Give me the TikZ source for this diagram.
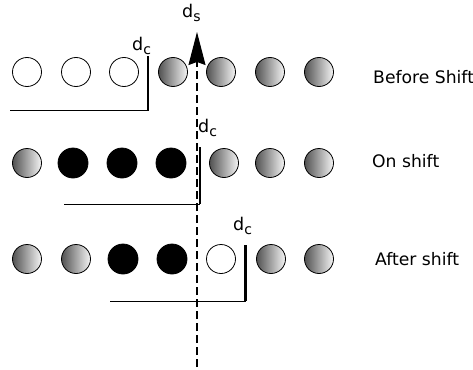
\documentclass[tikz,border=0pt]{standalone}
\usepackage{fontspec}
\setmainfont{DejaVu Sans}
\usetikzlibrary{arrows.meta}
% a letter d with a lowered index letter
\newcommand\dsub[1]{d\raisebox{-4pt}{\fontsize{14}{15}\selectfont #1}}
\begin{document}
\begin{tikzpicture}[x=1pt,y=-1pt,
  ball/.style={circle,draw=black,line width=0.8pt,minimum size=29pt,inner sep=0pt},
  emptyball/.style={ball,fill=white},
  fullball/.style={ball,fill=black,minimum size=30pt},
  greyball/.style={ball,left color=black!68,right color=black!4},
  cutline/.style={line width=0.9pt},
  cutmark/.style={line width=2.4pt},
  dlab/.style={font=\fontsize{17.5}{20}\selectfont,inner sep=0pt,anchor=base west},
  rowlab/.style={font=\fontsize{17.2}{20}\selectfont,inner sep=0pt,anchor=base west},
  axis/.style={line width=1.1pt,dash pattern=on 8pt off 4pt,
    -{Stealth[length=33pt,width=17pt,inset=3pt]}}
]
\useasboundingbox (0,0) rectangle (473,369);

% row 1: before the shift
\node[emptyball] (a1) at (27,72) {};
\node[emptyball] (a2) at (76,72) {};
\node[emptyball] (a3) at (124,72) {};
\node[greyball]  (a4) at (173,72) {};
\node[greyball]  (a5) at (221,72) {};
\node[greyball]  (a6) at (270,72) {};
\node[greyball]  (a7) at (319,72) {};

% row 2: during the shift
\node[greyball] (b1) at (27,163) {};
\node[fullball] (b2) at (73,163) {};
\node[fullball] (b3) at (122,163) {};
\node[fullball] (b4) at (171,163) {};
\node[greyball] (b5) at (224,163) {};
\node[greyball] (b6) at (270,163) {};
\node[greyball] (b7) at (319,163) {};

% row 3: after the shift
\node[greyball]  (c1) at (27,259) {};
\node[greyball]  (c2) at (76,259) {};
\node[fullball]  (c3) at (123,259) {};
\node[fullball]  (c4) at (172,259) {};
\node[emptyball] (c5) at (221,259) {};
\node[greyball]  (c6) at (271,259) {};
\node[greyball]  (c7) at (319,259) {};

% cut brackets
\coordinate (ka) at (10,110.7);
\coordinate (kb) at (148,110.7);
\coordinate (kt) at (148,56);
\draw[cutline] (ka) -- (kb);
\draw[cutmark] (kt) -- (kb);

\coordinate (ma) at (64,204);
\coordinate (mb) at (200,204);
\coordinate (mt) at (200,147);
\draw[cutline] (ma) -- (mb);
\draw[cutmark] (mt) -- (mb);

\coordinate (na) at (110,301);
\coordinate (nb) at (245.5,301);
\coordinate (nt) at (245.5,245);
\draw[cutline] (na) -- (nb);
\draw[cutmark] (nt) -- (nb);

% shift axis
\coordinate (sb) at (197,367);
\coordinate (st) at (197,32);
\draw[axis] (sb) -- (st);

% labels
\node[dlab] (ds) at (182,18) {\dsub{s}};
\node[dlab] (dc1) at (132,50) {\dsub{c}};
\node[dlab] (dc2) at (198,132) {\dsub{c}};
\node[dlab] (dc3) at (233,230) {\dsub{c}};

\node[rowlab] (l1) at (373,83) {Before Shift};
\node[rowlab] (l2) at (372,167) {On shift};
\node[rowlab] (l3) at (375,265) {After shift};
\end{tikzpicture}
\end{document}
